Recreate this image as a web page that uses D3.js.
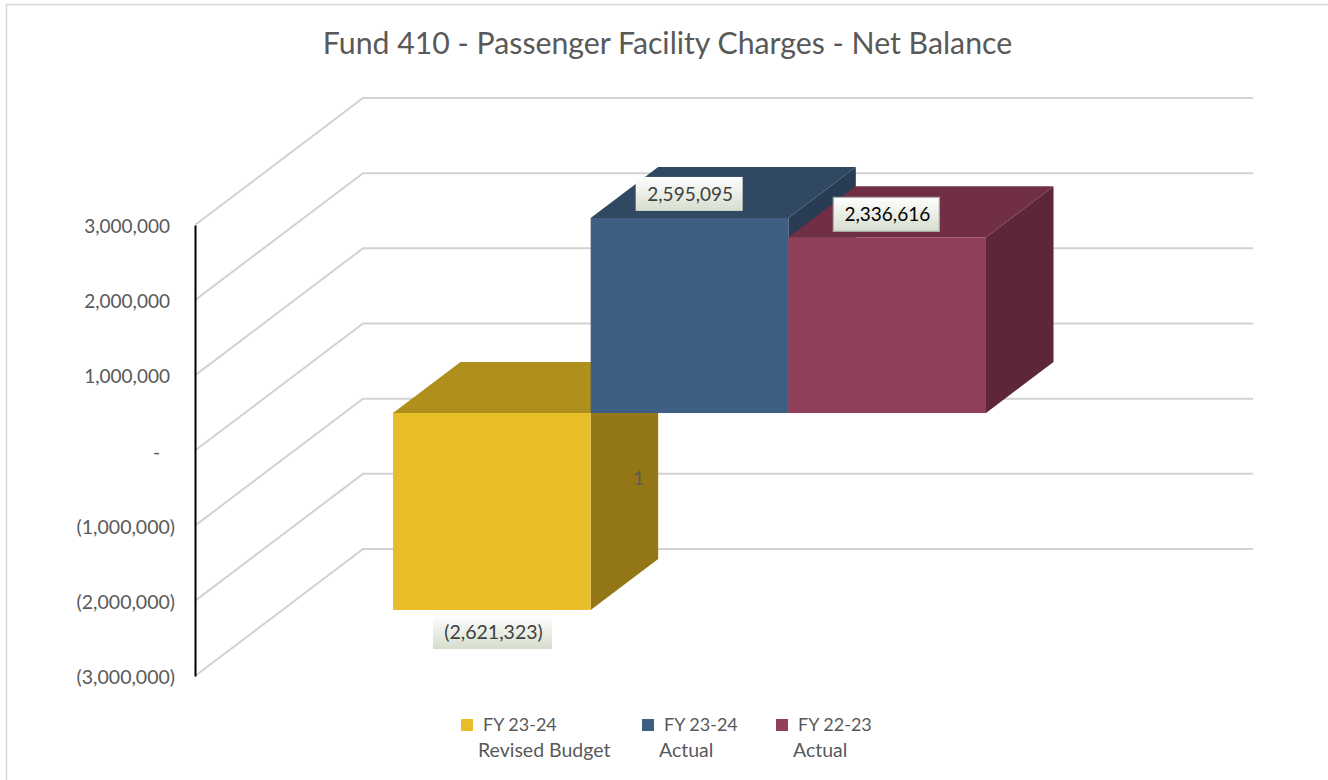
<!DOCTYPE html>
<html>
<head>
<meta charset="utf-8">
<script src="https://cdn.jsdelivr.net/npm/d3@7"></script>
<style>
  html, body { margin: 0; padding: 0; background: #fff; }
  svg { display: block; font-family: Lato, "Open Sans", sans-serif; }
</style>
</head>
<body>
<svg id="chart"></svg>
<script>
var seriesNames = ["FY 23-24 Revised Budget", "FY 23-24 Actual", "FY 22-23 Actual"];
var seriesValues = [-2621323, 2595095, 2336616];
var seriesLabels = ["(2,621,323)", "2,595,095", "2,336,616"];
var legendLine1 = ["FY 23-24", "FY 23-24", "FY 22-23"];
var legendLine2 = ["Revised Budget", "Actual", "Actual"];
var tickValues = [3000000, 2000000, 1000000, 0, -1000000, -2000000, -3000000];
var categoryLabel = ["1"];

var frontColors = ["#e7be27", "#3f5e84", "#913f5c"];
var topColors = ["#b0901c", "#314863", "#702f45"];
var sideColors = ["#937716", "#283c54", "#5d2739"];

var width = 1328,
  height = 780;

var svg = d3.select("#chart")
  .attr("width", width)
  .attr("height", height);

// plane of the axis, the back wall sits up and to the right of it
var y = d3.scaleLinear().domain([-3000000, 3000000]).range([676, 225]);
var axisX = 195;
var wallDx = 168, wallDy = -127;
var wallRight = 1253;

// front plane of the bars
var x = d3.scaleBand().domain(d3.range(seriesValues.length)).range([393, 986]);
var frontDy = -37.5;
var barDx = 67.5, barDy = -51;

var defs = svg.append("defs");
var grad = defs.append("linearGradient").attr("id", "labelFill")
  .attr("x1", 0).attr("y1", 0).attr("x2", 0).attr("y2", 1);
grad.append("stop").attr("offset", "0%").attr("stop-color", "#ffffff");
grad.append("stop").attr("offset", "100%").attr("stop-color", "#d6ddcd");

// chart frame, cut by the picture on the other sides
svg.append("path")
  .attr("d", "M6.5 " + height + "V4.5H" + width)
  .attr("fill", "none")
  .attr("stroke", "#d9d9d9")
  .attr("stroke-width", 1.5);

svg.append("text")
  .attr("x", 667.5)
  .attr("y", 54)
  .attr("text-anchor", "middle")
  .attr("font-size", 30.25)
  .attr("fill", "#595959")
  .text("Fund 410 - Passenger Facility Charges - Net Balance");

// gridlines, floor diagonal then along the back wall
svg.selectAll(".grid").data(tickValues)
  .enter().append("path")
  .attr("class", "grid")
  .attr("fill", "none")
  .attr("stroke", "#d2d2d2")
  .attr("stroke-width", 2)
  .attr("d", function(d) {
    var path = "M " + axisX + " " + y(d);
    path += "L " + (axisX + wallDx) + " " + (y(d) + wallDy);
    path += "L " + wallRight + " " + (y(d) + wallDy);
    return path;
  });

// axis line and the accounting style tick labels
var axis = d3.axisLeft(y)
  .tickValues(tickValues)
  .tickSize(0)
  .tickPadding(0)
  .tickFormat(function(d) {
    if (d === 0) return "-";
    var s = d3.format(",")(Math.abs(d));
    return d < 0 ? "(" + s + ")" : s;
  });

var axisG = svg.append("g")
  .attr("transform", "translate(" + axisX + ",0)")
  .call(axis);
axisG.select(".domain")
  .attr("stroke", "#000")
  .attr("stroke-width", 2);
axisG.selectAll("text")
  .attr("font-family", "Lato, 'Open Sans', sans-serif")
  .attr("font-size", function(d) { return d < 0 ? 19.5 : 19; })
  .attr("fill", "#595959")
  .attr("dy", "0.4em")
  .attr("x", function(d) {
    if (d === 0) return -35;
    return d < 0 ? -20 : -25;
  });

// bars, drawn left to right so that each covers the one before
var bars = svg.selectAll(".bar").data(seriesValues)
  .enter().append("g")
  .attr("class", "bar");

function quad(a, b, c, d) {
  return "M" + [a, b, c, d].map(function(p) { return p.join(" "); }).join("L") + "Z";
}

bars.each(function(d, i) {
  var g = d3.select(this);
  var x0 = x(i), x1 = x(i) + x.bandwidth();
  var yTop = Math.min(y(d), y(0)) + frontDy;
  var yBot = Math.max(y(d), y(0)) + frontDy;

  g.append("path").attr("fill", topColors[i])
    .attr("d", quad([x0, yTop], [x0 + barDx, yTop + barDy], [x1 + barDx, yTop + barDy], [x1, yTop]));
  g.append("path").attr("fill", sideColors[i])
    .attr("d", quad([x1, yTop], [x1 + barDx, yTop + barDy], [x1 + barDx, yBot + barDy], [x1, yBot]));
  g.append("path").attr("fill", frontColors[i])
    .attr("d", quad([x0, yTop], [x1, yTop], [x1, yBot], [x0, yBot]));
});

// category label sits on the first bar's side face
svg.append("text")
  .attr("x", x(0) + x.bandwidth() + 48)
  .attr("y", y(0) + 34)
  .attr("text-anchor", "middle")
  .attr("font-size", 19)
  .attr("fill", "#595959")
  .text(categoryLabel[0]);

// data labels
var labelW = [119, 107, 106];
var labelDx = [40, 45, 45];
var labelDy = [5, -41, -40];
var labelStroke = ["none", "none", "#a9aca6"];
var labelText = ["#404040", "#404040", "#000000"];
var labelSize = [19.5, 19, 19];
var labelH = 34;

var labels = svg.selectAll(".dlabel").data(seriesValues)
  .enter().append("g")
  .attr("class", "dlabel")
  .attr("transform", function(d, i) {
    return "translate(" + (x(i) + labelDx[i]) + "," + (y(d) + frontDy + labelDy[i]) + ")";
  });

labels.append("rect")
  .attr("width", function(d, i) { return labelW[i]; })
  .attr("height", labelH)
  .attr("fill", "url(#labelFill)")
  .attr("stroke", function(d, i) { return labelStroke[i]; })
  .attr("stroke-width", 1.2);

labels.append("text")
  .attr("x", function(d, i) { return labelW[i] / 2 + 1; })
  .attr("y", labelH / 2)
  .attr("dy", "0.36em")
  .attr("text-anchor", "middle")
  .attr("font-size", function(d, i) { return labelSize[i]; })
  .attr("fill", function(d, i) { return labelText[i]; })
  .text(function(d, i) { return seriesLabels[i]; });

// legend
var swatchX = [461, 642, 776];

var legend = svg.selectAll(".legend").data(seriesNames)
  .enter().append("g")
  .attr("class", "legend")
  .attr("transform", function(d, i) { return "translate(" + swatchX[i] + ",719)"; });

legend.append("rect")
  .attr("width", 12)
  .attr("height", 12)
  .attr("fill", function(d, i) { return frontColors[i]; });

legend.append("text")
  .attr("x", 22)
  .attr("y", 12)
  .attr("font-size", 18)
  .attr("fill", "#595959")
  .text(function(d, i) { return legendLine1[i]; });

legend.append("text")
  .attr("x", 17)
  .attr("y", 38)
  .attr("font-size", 19.5)
  .attr("fill", "#595959")
  .text(function(d, i) { return legendLine2[i]; });
</script>
</body>
</html>
